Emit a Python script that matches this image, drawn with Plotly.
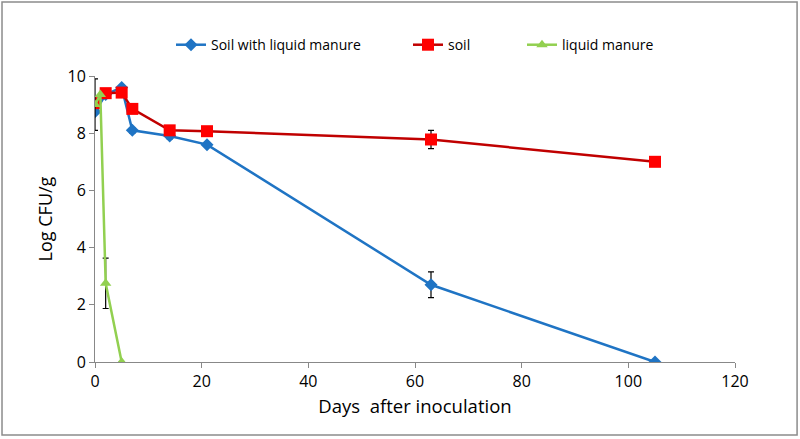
import plotly.graph_objects as go

days_mix = [0, 2, 5, 7, 14, 21, 63, 105]
soil_manure = [8.75, 9.35, 9.6, 8.1, 7.9, 7.6, 2.7, 0.0]
soil_manure_err = [0, 0, 0, 0.1, 0.1, 0, 0.45, 0]

days_soil = [0, 2, 5, 7, 14, 21, 63, 105]
soil = [9.05, 9.4, 9.42, 8.85, 8.1, 8.07, 7.78, 7.0]
soil_err = [0, 0, 0, 0, 0, 0, 0.32, 0]

days_manure = [0, 1, 2, 5]
manure = [9.0, 9.35, 2.75, 0.0]
manure_err = [0.9, 0, 0.88, 0]

x_ticks = [0, 20, 40, 60, 80, 100, 120]
y_ticks = [0, 2, 4, 6, 8, 10]

font = "Open Sans, Liberation Sans, sans-serif"

fig = go.Figure()
fig.add_trace(go.Scatter(
    x=days_mix, y=soil_manure, name="Soil with liquid manure", mode="lines+markers",
    line=dict(color="#1F74C4", width=2.5),
    marker=dict(symbol="diamond", size=10, color="#1F74C4"),
    error_y=dict(type="data", array=soil_manure_err, color="black", thickness=1.2, width=3),
    legend="legend",
))
fig.add_trace(go.Scatter(
    x=days_soil, y=soil, name="soil", mode="lines+markers",
    line=dict(color="#C00000", width=2.5),
    marker=dict(symbol="square", size=12, color="#FF0000"),
    error_y=dict(type="data", array=soil_err, color="black", thickness=1.2, width=3),
    legend="legend2",
))
fig.add_trace(go.Scatter(
    x=days_manure, y=manure, name="liquid manure", mode="lines+markers",
    line=dict(color="#92D050", width=2.5),
    marker=dict(symbol="triangle-up", size=10, color="#92D050"),
    error_y=dict(type="data", array=manure_err, color="black", thickness=1.2, width=3),
    legend="legend3",
))

leg_common = dict(orientation="h", yanchor="middle", y=1.108, xanchor="left",
                  font=dict(size=14, family=font), bgcolor="rgba(0,0,0,0)",
                  itemwidth=30)
fig.update_layout(
    width=800, height=439,
    margin=dict(l=95, r=65, t=76, b=77, autoexpand=False),
    paper_bgcolor="white", plot_bgcolor="white",
    font=dict(family=font, size=16, color="black"),
    legend=dict(x=(171 - 95) / 640, **leg_common),
    legend2=dict(x=(408 - 95) / 640, **leg_common),
    legend3=dict(x=(522 - 95) / 640, **leg_common),
    showlegend=True,
)
fig.update_xaxes(range=[0, 120], tickvals=x_ticks, showgrid=False, zeroline=False,
                 showline=True, linecolor="#888888", linewidth=1,
                 ticks="outside", ticklen=5, tickcolor="#888888", automargin=False,
                 tickfont=dict(size=16),
                 title=dict(text="Days  after inoculation", font=dict(size=18.5), standoff=8))
fig.update_yaxes(range=[0, 10], tickvals=y_ticks, showgrid=False, zeroline=False,
                 showline=True, linecolor="#888888", linewidth=1,
                 ticks="outside", ticklen=5, tickcolor="#888888", automargin=False,
                 tickfont=dict(size=16),
                 title=dict(text="Log CFU/g", font=dict(size=18), standoff=10))

fig.add_shape(type="rect", xref="paper", yref="paper",
              x0=-0.1453, x1=1.097, y0=-0.255, y1=1.2587,
              line=dict(color="#8C8C8C", width=1.5), layer="below")

fig.write_html("out.html", config={"displayModeBar": False},
               post_script="document.body.style.margin='0';")
